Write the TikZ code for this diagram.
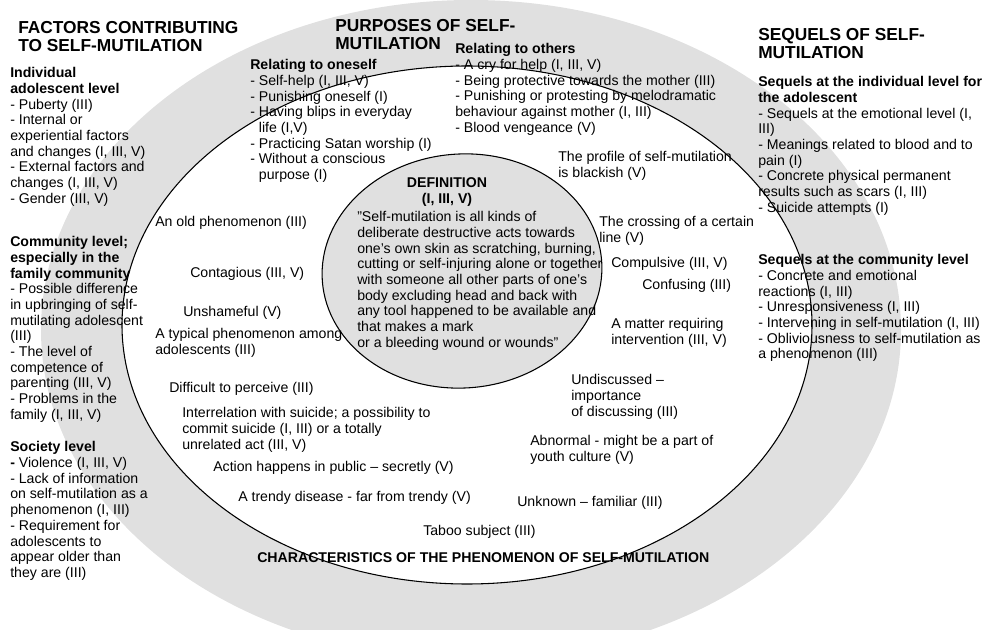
\documentclass[tikz,border=0pt]{standalone}
\usepackage{fontspec}
\setmainfont{Liberation Sans}
\newcommand\ML[1]{\begin{tabular}[t]{@{}l@{}}#1\end{tabular}}
\newcommand\MC[1]{\begin{tabular}[t]{@{}c@{}}#1\end{tabular}}
\definecolor{shade}{RGB}{224,224,224}
\begin{document}
\begin{tikzpicture}[x=0.75pt,y=-0.75pt,
  body/.style={anchor=base west, inner sep=0pt, font=\fontsize{10.6}{11.75}\selectfont},
  hd/.style={anchor=base west, inner sep=0pt, font=\fontsize{13}{13.5}\selectfont\bfseries},
  outer/.style={fill=shade, draw=none},
  middle/.style={fill=white, draw=black, line width=0.8pt},
  inner/.style={fill=shade, draw=black, line width=0.8pt}]
\useasboundingbox (0,0) rectangle (992,630);
\clip (0,0) rectangle (992,630);
% ellipses
\coordinate (co) at (471,330);
\coordinate (cm) at (467,325);
\coordinate (ci) at (462,271);
\path[outer] (co) ellipse [x radius=430, y radius=330];
\path[middle] (cm) ellipse [x radius=345, y radius=259];
\path[inner, rotate around={4:(ci)}] (ci) ellipse [x radius=140, y radius=117];

% left column
\node[hd] (fh) at (18,34) {\ML{FACTORS CONTRIBUTING\\TO SELF-MUTILATION}};
\node[body] (f1) at (10,78) {\ML{\textbf{Individual}\\\textbf{adolescent level}\\- Puberty (III)\\- Internal or\\experiential factors\\and changes (I, III, V)\\- External factors and\\changes (I, III, V)\\- Gender (III, V)}};
\node[body] (f2) at (10,247) {\ML{\textbf{Community level;}\\\textbf{especially in the}\\\textbf{family community}\\- Possible difference\\in upbringing of self-\\mutilating adolescent\\(III)\\- The level of\\competence of\\parenting (III, V)\\- Problems in the\\family (I, III, V)}};
\node[body] (f3) at (10,452) {\ML{\textbf{Society level}\\\textbf{-} Violence (I, III, V)\\- Lack of information\\on self-mutilation as a\\phenomenon (I, III)\\- Requirement for\\adolescents to\\appear older than\\they are (III)}};

% purposes
\node[hd] (ph) at (335,32) {\ML{PURPOSES OF SELF-\\MUTILATION}};
\node[body] (p1) at (250,70) {\ML{\textbf{Relating to oneself}\\- Self-help (I, III, V)\\- Punishing oneself (I)\\- Having blips in everyday\\\hphantom{- }life (I,V)\\- Practicing Satan worship (I)\\- Without a conscious\\\hphantom{- }purpose (I)}};
\node[body] (p2) at (455,54) {\ML{\textbf{Relating to others}\\- A cry for help (I, III, V)\\- Being protective towards the mother (III)\\- Punishing or protesting by melodramatic\\behaviour against mother (I, III)\\- Blood vengeance (V)}};

% sequels
\node[hd] (sh) at (758,41) {\ML{SEQUELS OF SELF-\\MUTILATION}};
\node[body] (s1) at (758,87) {\ML{\textbf{Sequels at the individual level for}\\\textbf{the adolescent}\\- Sequels at the emotional level (I,\\III)\\- Meanings related to blood and to\\pain (I)\\- Concrete physical permanent\\results such as scars (I, III)\\- Suicide attempts (I)}};
\node[body] (s2) at (758,265) {\ML{\textbf{Sequels at the community level}\\- Concrete and emotional\\reactions (I, III)\\- Unresponsiveness (I, III)\\- Intervening in self-mutilation (I, III)\\- Obliviousness to self-mutilation as\\a phenomenon (III)}};

% definition
\node[body, anchor=base] (dh) at (447,188) {\MC{\textbf{DEFINITION}\\\textbf{(I, III, V)}}};
\node[body] (dq) at (357,222) {\ML{”Self-mutilation is all kinds of\\deliberate destructive acts towards\\one’s own skin as scratching, burning,\\cutting or self-injuring alone or together\\with someone all other parts of one’s\\body excluding head and back with\\any tool happened to be available and\\that makes a mark\\or a bleeding wound or wounds”}};

% characteristics
\node[body] (c1) at (155,227) {An old phenomenon (III)};
\node[body] (c2) at (190,278) {Contagious (III, V)};
\node[body] (c3) at (183,317) {Unshameful (V)};
\node[body] (c4) at (155,339) {\ML{A typical phenomenon among\\adolescents (III)}};
\node[body] (c5) at (169,393) {Difficult to perceive (III)};
\node[body] (c6) at (182,418) {\ML{Interrelation with suicide; a possibility to\\commit suicide (I, III) or a totally\\unrelated act (III, V)}};
\node[body] (c7) at (213,472) {Action happens in public – secretly (V)};
\node[body] (c8) at (238,502) {A trendy disease - far from trendy (V)};
\node[body] (c9) at (423,535) {Taboo subject (III)};
\node[body] (c10) at (517,507) {Unknown – familiar (III)};
\node[body] (c11) at (530,446) {\ML{Abnormal - might be a part of\\youth culture (V)}};
\node[body] (c12) at (571,385) {\ML{Undiscussed –\\importance\\of discussing (III)}};
\node[body] (c13) at (611,329) {\ML{A matter requiring\\intervention (III, V)}};
\node[body] (c14) at (611,268) {Compulsive (III, V)};
\node[body] (c15) at (642,290) {Confusing (III)};
\node[body] (c16) at (599,227) {\ML{The crossing of a certain\\line (V)}};
\node[body] (c17) at (558,162) {\ML{The profile of self-mutilation\\is blackish (V)}};
\node[body, font=\fontsize{10.6}{11.75}\selectfont\bfseries] (ch) at (257,562) {CHARACTERISTICS OF THE PHENOMENON OF SELF-MUTILATION};
\end{tikzpicture}
\end{document}
